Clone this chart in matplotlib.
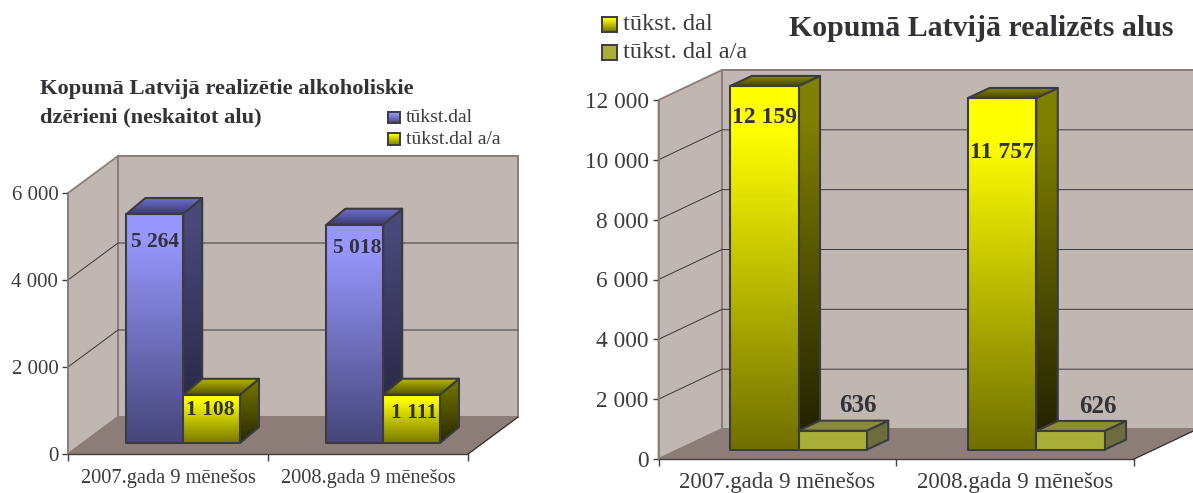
import numpy as np
import matplotlib
matplotlib.use("Agg")
import matplotlib.pyplot as plt
from matplotlib.patches import Polygon

plt.rcParams['font.family'] = ['Liberation Serif', 'DejaVu Serif']

W, H = 1193, 493

# left chart data
categories = ["2007.gada 9 mēnešos", "2008.gada 9 mēnešos"]
spirits_dal = [5264, 5018]
spirits_yoy = [1108, 1111]
spirits_ticks = [0, 2000, 4000, 6000]
spirits_tick_labels = ["0", "2 000", "4 000", "6 000"]
spirits_dal_labels = ["5 264", "5 018"]
spirits_yoy_labels = ["1 108", "1 111"]

# right chart data
beer_dal = [12159, 11757]
beer_yoy = [636, 626]
beer_ticks = [0, 2000, 4000, 6000, 8000, 10000, 12000]
beer_tick_labels = ["0", "2 000", "4 000", "6 000", "8 000", "10 000", "12 000"]
beer_dal_labels = ["12 159", "11 757"]
beer_yoy_labels = ["636", "626"]

WALL = (192/255, 182/255, 178/255)
FLOOR = (140/255, 125/255, 120/255)
EDGE = (60/255, 60/255, 64/255)
TEXT = (50/255, 50/255, 55/255)

BLUE = dict(front=((150, 150, 252), (70, 70, 122)), side=((72, 72, 122), (34, 34, 62)), top=((104, 104, 196), (60, 60, 110)))
YEL_TALL = dict(front=((255, 255, 0), (112, 112, 0)), side=((128, 128, 0), (30, 30, 0)), top=((128, 128, 0), (72, 72, 0)))
YEL_LOW = dict(front=((255, 255, 0), (122, 122, 0)), side=((112, 112, 0), (40, 40, 0)), top=((170, 170, 0), (84, 84, 0)))
OLIVE = dict(front=((168, 174, 56), (168, 174, 56)), side=((108, 108, 62), (108, 108, 62)), top=((138, 138, 62), (138, 138, 62)))

fig = plt.figure(figsize=(W/100, H/100), dpi=100)
fig.patch.set_facecolor('white')


def make_axes(left, right, top, bottom):
	return fig.add_axes([left/W, 1 - bottom/H, (right - left)/W, (bottom - top)/H])


def ramp(c1, c2, n=128, hold=0.12):
	# the first part of the gradient stays on the light colour
	t = np.clip((np.linspace(0, 1, n) - hold)/(1 - hold), 0, 1)[:, None, None]
	return ((1 - t)*np.array(c1)[None, None, :] + t*np.array(c2)[None, None, :]).astype(np.uint8)


def face(ax, pts, colors, z):
	pts = np.array(pts)
	edge = Polygon(pts, closed=True, fc='none', ec=EDGE, lw=1.5, zorder=z + 0.1, clip_on=False, joinstyle='round')
	ax.add_patch(edge)
	im = ax.imshow(ramp(*colors), extent=(pts[:, 0].min(), pts[:, 0].max(), pts[:, 1].min(), pts[:, 1].max()),
		aspect='auto', interpolation='bilinear', zorder=z)
	im.set_clip_path(edge)
	im.set_clip_box(fig.bbox)


def bar3d(ax, x0, bw, base, value, dx, dy, style, z):
	x1 = x0 + bw
	top = base + value
	face(ax, [(x1, base), (x1 + dx, base + dy), (x1 + dx, top + dy), (x1, top)], style['side'], z)
	face(ax, [(x0, top), (x1, top), (x1 + dx, top + dy), (x0 + dx, top + dy)], style['top'], z + 0.2)
	face(ax, [(x0, base), (x1, base), (x1, top), (x0, top)], style['front'], z + 0.4)


def chart(box, ymax, ticks, tick_labels, a, b, a_style, b_style, a_labels, b_labels, a_off, b_off,
		wall_px, bar_px, tick_size, a_size, b_size, cat_size, cat_pad):
	left, right, top, bottom = box
	ax = make_axes(left, right, top, bottom)
	ax.set_xlim(0, 2)
	ax.set_ylim(0, ymax)
	ax.patch.set_visible(False)
	xu = 2/(right - left)
	yu = ymax/(bottom - top)
	wx, wy = wall_px[0]*xu, wall_px[1]*yu
	start, bw, base_px, bdx, bdy = bar_px
	base, dx, dy = base_px*yu, bdx*xu, bdy*yu

	# walls and floor
	ax.add_patch(Polygon([(0, 0), (wx, wy), (wx, ymax + wy), (0, ymax)], fc=WALL, ec=FLOOR, lw=1.3, zorder=1, clip_on=False))
	ax.add_patch(Polygon([(wx, wy), (2 + wx, wy), (2 + wx, ymax + wy), (wx, ymax + wy)], fc=WALL, ec=FLOOR, lw=1.4, zorder=1, clip_on=False))
	ax.add_patch(Polygon([(0, 0), (2, 0), (2 + wx, wy), (wx, wy)], fc=FLOOR, ec=FLOOR, lw=1, zorder=1.1, clip_on=False))
	ax.plot([2, 2 + wx], [0, wy], color='#303030', lw=0.8, zorder=1.2, clip_on=False)
	for t in ticks[1:-1]:
		ax.plot([0, wx, 2 + wx], [t, t + wy, t + wy], color='#38383c', lw=0.7, zorder=1.2, clip_on=False)

	z = 3
	for i in range(2):
		x0 = i + start
		bar3d(ax, x0, bw, base, a[i], dx, dy, a_style, z)
		bar3d(ax, x0 + bw, bw, base, b[i], dx, dy, b_style, z + 1)
		ax.annotate(a_labels[i], (x0 + bw/2, base + a[i]), xytext=a_off[i], textcoords='offset points',
			ha='center', va='center', fontsize=a_size, fontweight='bold', color=TEXT, zorder=10, annotation_clip=False)
		ax.annotate(b_labels[i], (x0 + bw*1.5, base + b[i]), xytext=b_off[i], textcoords='offset points',
			ha='center', va='center', fontsize=b_size, fontweight='bold', color=TEXT, zorder=10, annotation_clip=False)
		z += 2

	for s in ['top', 'right']:
		ax.spines[s].set_visible(False)
	ax.spines['left'].set_color(FLOOR)
	ax.spines['left'].set_linewidth(1.3)
	ax.spines['bottom'].set_color('#404040')
	ax.spines['bottom'].set_linewidth(1.0)
	for s in ['left', 'bottom']:
		ax.spines[s].set_zorder(2)
	ax.set_yticks(ticks, tick_labels)
	ax.set_xticks([0, 1, 2], ['', '', ''])
	ax.set_xticks([0.5, 1.5], categories, minor=True)
	ax.tick_params(axis='y', length=4, width=1, color='#404040', labelsize=tick_size, labelcolor='#3c3c3c', pad=3)
	ax.tick_params(axis='x', which='major', length=5, width=1, color='#404040')
	ax.tick_params(axis='x', which='minor', length=0, labelsize=cat_size, labelcolor='#3c3c3c', pad=cat_pad)
	return ax


def swatch(x0, y0, x1, y1, colors, label, size):
	sw = make_axes(x0, x1, y0, y1)
	sw.imshow(ramp(*colors), aspect='auto', interpolation='bilinear')
	sw.set_xticks([])
	sw.set_yticks([])
	for s in sw.spines.values():
		s.set_color(EDGE)
		s.set_linewidth(1.4)
	fig.text((x1 + 6)/W, 1 - ((y0 + y1)/2)/H, label, fontsize=size, color='#3c3c3c', va='center', ha='left')


chart((68, 468, 193, 454), 6000, spirits_ticks, spirits_tick_labels, spirits_dal, spirits_yoy, BLUE, YEL_LOW,
	spirits_dal_labels, spirits_yoy_labels, [(0, -20.5), (1.5, -16.5)], [(-1, -11), (2, -13)],
	(50, 37), (0.292, 0.284, 11, 19, 16), 15, 15.5, 15.5, 14.7, 10.5)

chart((658.5, 1134, 100, 459), 12000, beer_ticks, beer_tick_labels, beer_dal, beer_yoy, YEL_TALL, OLIVE,
	beer_dal_labels, beer_yoy_labels, [(0, -23), (0, -39)], [(18, 18), (19.5, 17.6)],
	(63.5, 30), (0.302, 0.287, 9.3, 21.5, 10), 16.8, 17, 18, 16.5, 9.5)

fig.text(40/W, 1 - 89/H, "Kopumā Latvijā realizētie alkoholiskie", fontsize=16.2,
	fontweight='bold', color=TEXT, va='center', ha='left')
fig.text(40/W, 1 - 117/H, "dzērieni (neskaitot alu)", fontsize=16.2,
	fontweight='bold', color=TEXT, va='center', ha='left')
fig.text(789/W, 1 - 29/H, "Kopumā Latvijā realizēts alus", fontsize=21.5, fontweight='bold', color=TEXT, va='center', ha='left')

swatch(388, 112, 400, 123, BLUE['front'], "tūkst.dal", 14)
swatch(388, 133, 400, 145, YEL_LOW['front'], "tūkst.dal a/a", 14)
swatch(602, 17, 617, 32, YEL_TALL['front'], "tūkst. dal", 17.5)
swatch(602, 45, 617, 60, OLIVE['front'], "tūkst. dal a/a", 17.5)

fig.savefig("out.png", dpi=100)
